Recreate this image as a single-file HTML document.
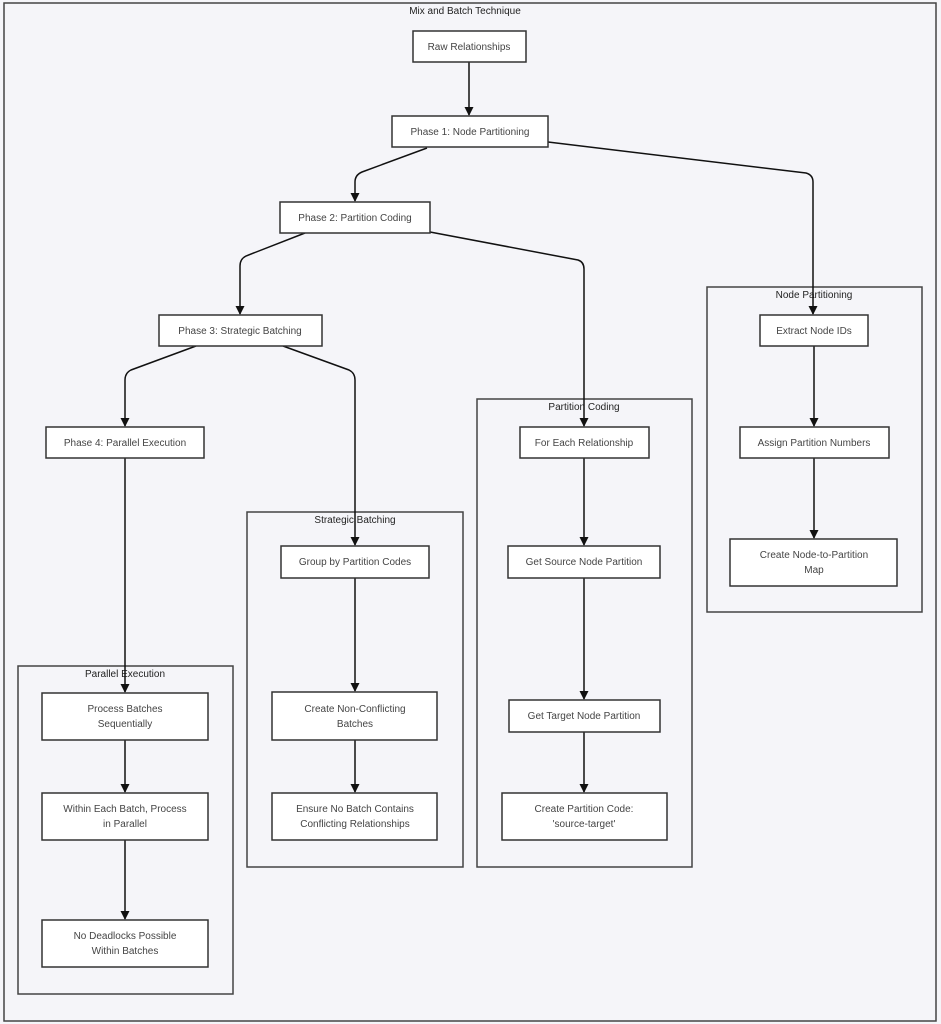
<!DOCTYPE html>
<html><head><meta charset="utf-8"><style>
html,body{margin:0;padding:0;background:#f5f5f9;}
svg{display:block}
text{font-family:"Liberation Sans",sans-serif;font-size:10px;fill:#444;text-anchor:middle;}
.t{fill:#222;}
.n{fill:#fff;stroke:#333;stroke-width:1.5;}
.c{fill:#f5f5f9;stroke:#444;stroke-width:1.5;}
.e{fill:none;stroke:#111;stroke-width:1.5;}
</style></head><body>
<svg width="941" height="1024" viewBox="0 0 941 1024">
<defs><marker id="a" markerWidth="9" markerHeight="9" refX="8" refY="4.5" orient="auto" markerUnits="userSpaceOnUse"><path d="M0,0 L9,4.5 L0,9 z" fill="#111"/></marker></defs>
<rect x="4" y="3" width="932" height="1018" class="c"/>
<text x="465" y="14" class="t">Mix and Batch Technique</text>
<rect x="707" y="287" width="215" height="325" class="c"/>
<text x="814" y="298" class="t">Node Partitioning</text>
<rect x="477" y="399" width="215" height="468" class="c"/>
<text x="584" y="410" class="t">Partition Coding</text>
<rect x="247" y="512" width="216" height="355" class="c"/>
<text x="355" y="523" class="t">Strategic Batching</text>
<rect x="18" y="666" width="215" height="328" class="c"/>
<text x="125" y="677" class="t">Parallel Execution</text>

<g marker-end="url(#a)">
<path class="e" d="M469,62 V115"/>
<path class="e" d="M427,148 L362,172 Q355,175 355,182 V201"/>
<path class="e" d="M548,142 L806,173 Q813,175 813,182 V314"/>
<path class="e" d="M305,233 L246,256 Q240,259 240,266 V314"/>
<path class="e" d="M430,232 L578,260 Q584,262 584,269 V426"/>
<path class="e" d="M196,346 L131,370 Q125,373 125,380 V426"/>
<path class="e" d="M283,346 L349,370 Q355,373 355,380 V545"/>
<path class="e" d="M125,458 V692"/>
<path class="e" d="M814,346 V426"/>
<path class="e" d="M814,458 V538"/>
<path class="e" d="M584,458 V545"/>
<path class="e" d="M584,578 V699"/>
<path class="e" d="M584,732 V792"/>
<path class="e" d="M355,578 V691"/>
<path class="e" d="M355,740 V792"/>
<path class="e" d="M125,740 V792"/>
<path class="e" d="M125,840 V919"/>
</g>

<rect x="413" y="31" width="113" height="31" class="n"/><text x="469" y="50">Raw Relationships</text>
<rect x="392" y="116" width="156" height="31" class="n"/><text x="470" y="135">Phase 1: Node Partitioning</text>
<rect x="280" y="202" width="150" height="31" class="n"/><text x="355" y="221">Phase 2: Partition Coding</text>
<rect x="159" y="315" width="163" height="31" class="n"/><text x="240" y="334">Phase 3: Strategic Batching</text>
<rect x="46" y="427" width="158" height="31" class="n"/><text x="125" y="446">Phase 4: Parallel Execution</text>

<rect x="760" y="315" width="108" height="31" class="n"/><text x="814" y="334">Extract Node IDs</text>
<rect x="740" y="427" width="149" height="31" class="n"/><text x="814" y="446">Assign Partition Numbers</text>
<rect x="730" y="539" width="167" height="47" class="n"/><text x="814" y="558">Create Node-to-Partition</text><text x="814" y="573">Map</text>

<rect x="520" y="427" width="129" height="31" class="n"/><text x="584" y="446">For Each Relationship</text>
<rect x="508" y="546" width="152" height="32" class="n"/><text x="584" y="565">Get Source Node Partition</text>
<rect x="509" y="700" width="151" height="32" class="n"/><text x="584" y="719">Get Target Node Partition</text>
<rect x="502" y="793" width="165" height="47" class="n"/><text x="584" y="812">Create Partition Code:</text><text x="584" y="827">'source-target'</text>

<rect x="281" y="546" width="148" height="32" class="n"/><text x="355" y="565">Group by Partition Codes</text>
<rect x="272" y="692" width="165" height="48" class="n"/><text x="355" y="712">Create Non-Conflicting</text><text x="355" y="727">Batches</text>
<rect x="272" y="793" width="165" height="47" class="n"/><text x="355" y="812">Ensure No Batch Contains</text><text x="355" y="827">Conflicting Relationships</text>

<rect x="42" y="693" width="166" height="47" class="n"/><text x="125" y="712">Process Batches</text><text x="125" y="727">Sequentially</text>
<rect x="42" y="793" width="166" height="47" class="n"/><text x="125" y="812">Within Each Batch, Process</text><text x="125" y="827">in Parallel</text>
<rect x="42" y="920" width="166" height="47" class="n"/><text x="125" y="939">No Deadlocks Possible</text><text x="125" y="954">Within Batches</text>
</svg>
</body></html>
